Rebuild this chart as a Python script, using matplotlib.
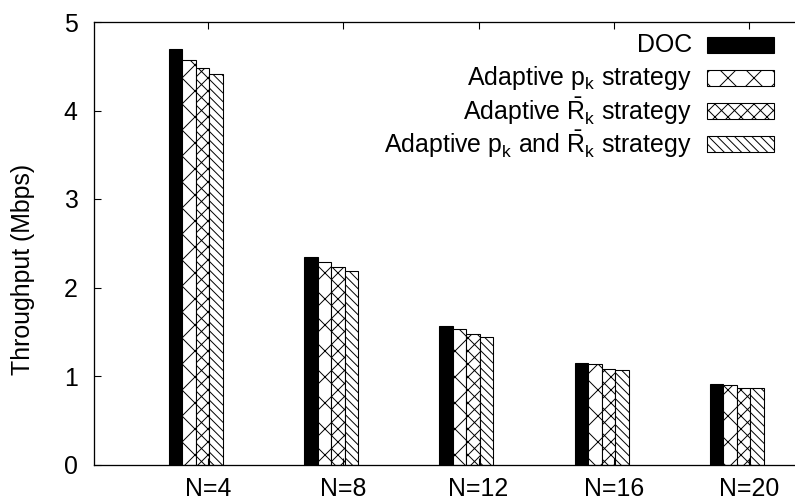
import matplotlib
matplotlib.use("Agg")
import matplotlib.pyplot as plt
from matplotlib.patches import Rectangle
import numpy as np

plt.rcParams['font.family'] = ['Liberation Sans', 'DejaVu Sans']
plt.rcParams['mathtext.fontset'] = 'custom'
plt.rcParams['mathtext.rm'] = 'Liberation Sans'
plt.rcParams['mathtext.it'] = 'Liberation Sans'
plt.rcParams['hatch.linewidth'] = 0.9

categories = ['N=4', 'N=8', 'N=12', 'N=16', 'N=20']
doc = [4.70, 2.35, 1.56, 1.15, 0.91]
adapt_p = [4.57, 2.29, 1.53, 1.14, 0.90]
adapt_r = [4.48, 2.23, 1.47, 1.08, 0.87]
adapt_pr = [4.41, 2.19, 1.44, 1.07, 0.86]

series = [doc, adapt_p, adapt_r, adapt_pr]
labels = ['DOC',
          r'Adaptive $\mathrm{p_k}$ strategy',
          r'Adaptive $\mathrm{\bar{R}_k}$ strategy',
          r'Adaptive $\mathrm{p_k}$ and $\mathrm{\bar{R}_k}$ strategy']
hatches = [None, 'x', 'xx', '\\\\\\']
faces = ['black', 'white', 'white', 'white']

DPI = 78
W, H = 795, 500
FS = 23
fig = plt.figure(figsize=(W / DPI, H / DPI), dpi=DPI)
ax = fig.add_axes([94 / W, (H - 464.5) / H, 709 / W, 442.5 / H])

x = np.arange(len(categories))
bw = 0.1
for k, (vals, h, fc) in enumerate(zip(series, hatches, faces)):
    ax.bar(x + (k - 2.4) * bw, vals, width=bw, color=fc, edgecolor='black',
           linewidth=1.0, hatch=h)

ax.set_xlim(-0.843, -0.843 + 709 / 135.25)
ax.set_ylim(0, 5)
ax.set_xticks(x)
ax.set_xticklabels(categories)
ax.set_yticks([0, 1, 2, 3, 4, 5])
ax.tick_params(direction='in', length=6.5, width=1.0, labelsize=FS, top=True, right=True)
ax.tick_params(axis='x', pad=12)
ax.tick_params(axis='y', pad=15)
for s in ax.spines.values():
    s.set_linewidth(1.2)
ax.set_ylabel('Throughput (Mbps)', fontsize=FS)
ax.yaxis.set_label_coords(-0.083, 0.44)

# legend (gnuplot style: text right-aligned, swatch on right)
rows_y = [45, 78, 111, 144]
for yy, lab, h, fc in zip(rows_y, labels, hatches, faces):
    fig.text(692 / W, 1 - yy / H, lab, ha='right', va='center', fontsize=FS)
    fig.add_artist(Rectangle((707 / W, 1 - (yy + 8) / H), 67 / W, 16 / H,
                             facecolor=fc, edgecolor='black', linewidth=1.0,
                             hatch=h, transform=fig.transFigure))

fig.savefig('out.png', dpi=DPI)
